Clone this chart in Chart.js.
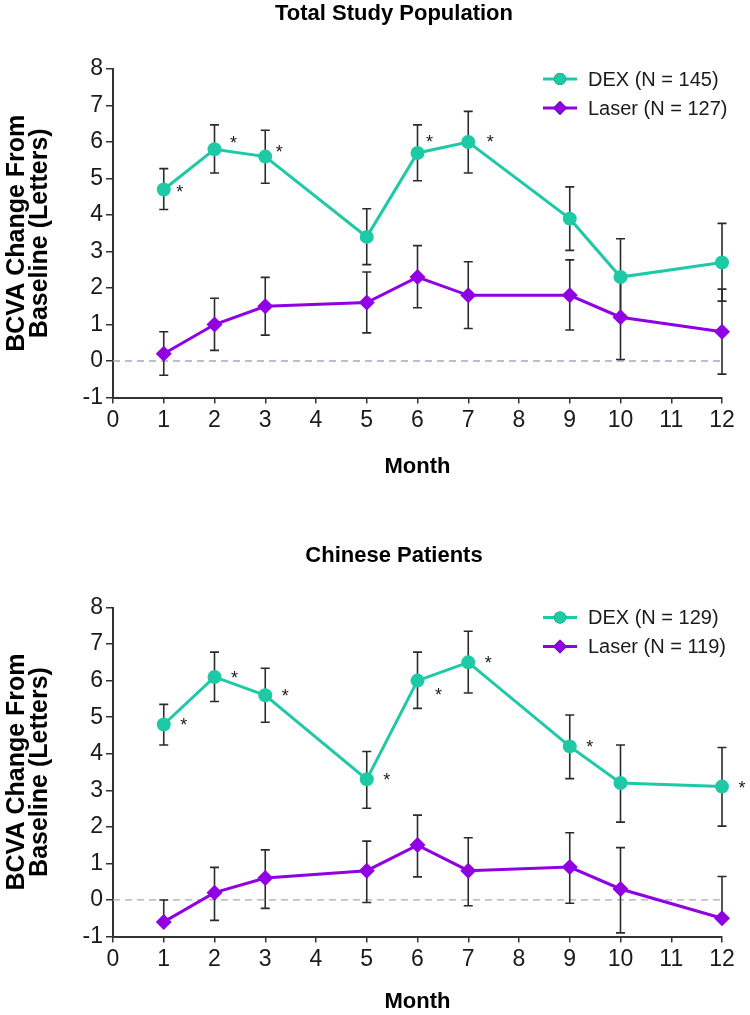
<!DOCTYPE html>
<html>
<head>
<meta charset="utf-8">
<script src="https://cdn.jsdelivr.net/npm/chart.js@4.4.1/dist/chart.umd.min.js"></script>
<style>
  body { margin: 0; background: #fff; }
  canvas { position: absolute; left: 0; }
</style>
</head>
<body>
<canvas id="totalChart" width="750" height="500" style="top:0"></canvas>
<canvas id="chineseChart" width="750" height="515" style="top:500px"></canvas>
<script>
// --- Données ---
const months = [1, 2, 3, 5, 6, 7, 9, 10, 12];
const monthTicks = [0, 1, 2, 3, 4, 5, 6, 7, 8, 9, 10, 11, 12];
const changeTicks = [-1, 0, 1, 2, 3, 4, 5, 6, 7, 8];

// Total Study Population
const totalDex      = [4.7, 5.8, 5.6, 3.4, 5.7, 6.0, 3.9, 2.3, 2.7];
const totalDexLow   = [4.15, 5.15, 4.87, 2.64, 4.94, 5.15, 3.03, 1.25, 1.64];
const totalDexHigh  = [5.27, 6.47, 6.32, 4.17, 6.47, 6.84, 4.77, 3.35, 3.77];
const totalLaser     = [0.2, 1.0, 1.5, 1.6, 2.3, 1.8, 1.8, 1.2, 0.8];
const totalLaserLow  = [-0.39, 0.29, 0.71, 0.77, 1.46, 0.89, 0.85, 0.04, -0.36];
const totalLaserHigh = [0.80, 1.72, 2.29, 2.44, 3.16, 2.72, 2.77, 2.36, 1.97];
const totalSig = [1, 2, 3, 6, 7];

// Chinese Patients
const chineseDex      = [4.8, 6.1, 5.6, 3.3, 6.0, 6.5, 4.2, 3.2, 3.1];
const chineseDexLow   = [4.24, 5.43, 4.86, 2.51, 5.24, 5.66, 3.32, 2.13, 2.02];
const chineseDexHigh  = [5.35, 6.78, 6.34, 4.06, 6.78, 7.35, 5.06, 4.24, 4.17];
const chineseLaser     = [-0.6, 0.2, 0.6, 0.8, 1.5, 0.8, 0.9, 0.3, -0.5];
const chineseLaserLow  = [null, -0.56, -0.23, -0.07, 0.63, -0.16, -0.09, -0.9, null];
const chineseLaserHigh = [0.0, 0.89, 1.37, 1.61, 2.32, 1.70, 1.84, 1.43, 0.64];
const chineseSig = [1, 2, 3, 5, 6, 7, 9, 12];

// --- Style ---
const FONT = "'Liberation Sans', Arial, sans-serif";
const INK = '#1a1a1a';
const DEX_COLOR = '#1ec9a6';
const LASER_COLOR = '#9000e3';

// ligne zéro + barres d'erreur (sous les séries)
const errorBars = {
    id: 'errorBars',
    beforeDatasetsDraw(chart) {
        const { ctx, chartArea, scales: { x, y } } = chart;
        ctx.save();
        const y0 = y.getPixelForValue(0);
        ctx.strokeStyle = '#a4a9c8';
        ctx.lineWidth = 1.3;
        ctx.setLineDash([7, 5]);
        ctx.beginPath();
        ctx.moveTo(chartArea.left, y0);
        ctx.lineTo(chartArea.right, y0);
        ctx.stroke();
        ctx.setLineDash([]);

        ctx.strokeStyle = '#2b2b2b';
        ctx.lineWidth = 1.6;
        chart.data.datasets.forEach(ds => {
            ds.data.forEach((p, i) => {
                const px = x.getPixelForValue(p.x);
                const py = y.getPixelForValue(p.y);
                [ds.low[i], ds.high[i]].forEach(v => {
                    if (v == null) return;
                    const ey = y.getPixelForValue(v);
                    ctx.beginPath();
                    ctx.moveTo(px, py);
                    ctx.lineTo(px, ey);
                    ctx.moveTo(px - 4.5, ey);
                    ctx.lineTo(px + 4.5, ey);
                    ctx.stroke();
                });
            });
        });
        ctx.restore();
    }
};

// astérisques de significativité
const asterisks = {
    id: 'asterisks',
    afterDatasetsDraw(chart, args, opts) {
        const { ctx, scales: { x, y } } = chart;
        const ds = chart.data.datasets[0];
        ctx.save();
        ctx.fillStyle = INK;
        ctx.font = `18px ${FONT}`;
        ctx.textAlign = 'center';
        ctx.textBaseline = 'middle';
        opts.months.forEach(m => {
            const p = ds.data.find(d => d.x === m);
            const off = opts.offsets[m] || [20, -2];
            ctx.fillText('*', x.getPixelForValue(p.x) + off[0], y.getPixelForValue(p.y) + off[1] + 4);
        });
        ctx.restore();
    }
};

// légende dans la zone du graphique + titre
const panelDecor = {
    id: 'panelDecor',
    afterDraw(chart, args, opts) {
        const { ctx, chartArea } = chart;
        ctx.save();
        ctx.fillStyle = '#000';
        ctx.font = `bold 22px ${FONT}`;
        ctx.textAlign = 'center';
        ctx.textBaseline = 'middle';
        ctx.fillText(opts.title, 394, opts.titleY);

        chart.data.datasets.forEach((ds, i) => {
            const ly = chartArea.top + 10 + i * 29;
            const r = chartArea.right;
            ctx.strokeStyle = ds.borderColor;
            ctx.lineWidth = 3;
            ctx.beginPath();
            ctx.moveTo(r - 179, ly);
            ctx.lineTo(r - 145, ly);
            ctx.stroke();
            Chart.helpers.drawPoint(ctx, { pointStyle: ds.pointStyle, radius: ds.pointRadius - 1, borderWidth: 0 }, r - 162, ly);
            ctx.fillStyle = ds.borderColor;
            ctx.fill();
            ctx.fillStyle = INK;
            ctx.font = `20px ${FONT}`;
            ctx.textAlign = 'left';
            ctx.fillText(ds.label, r - 134, ly + 1);
        });
        ctx.restore();
    }
};

function axisTicks(values) {
    return scale => { scale.ticks = values.map(v => ({ value: v })); };
}

function makeChart(canvasId, cfg) {
    const ctx = document.getElementById(canvasId).getContext('2d');
    const series = (vals, low, high, label, color, style, radius) => ({
        label: label,
        data: months.map((m, i) => ({ x: m, y: vals[i] })),
        low: low,
        high: high,
        borderColor: color,
        backgroundColor: color,
        borderWidth: 3,
        pointStyle: style,
        pointRadius: radius,
        pointBorderWidth: 0,
        pointHoverRadius: radius,
        tension: 0,
        clip: false
    });
    const h = ctx.canvas.height;
    return new Chart(ctx, {
        type: 'line',
        data: {
            datasets: [
                series(cfg.dex, cfg.dexLow, cfg.dexHigh, cfg.dexLabel, DEX_COLOR, 'circle', 7),
                series(cfg.laser, cfg.laserLow, cfg.laserHigh, cfg.laserLabel, LASER_COLOR, 'rectRot', 8)
            ]
        },
        plugins: [errorBars, asterisks, panelDecor],
        options: {
            responsive: false,
            animation: false,
            layout: { padding: { top: cfg.top, right: 28, left: 0, bottom: 0 } },
            plugins: {
                legend: { display: false },
                tooltip: { enabled: false },
                asterisks: { months: cfg.sig, offsets: cfg.sigOffsets },
                panelDecor: { title: cfg.title, titleY: cfg.titleY }
            },
            scales: {
                x: {
                    type: 'linear', min: 0, max: 12,
                    afterBuildTicks: axisTicks(monthTicks),
                    afterFit: s => { s.height = h - cfg.bottom; },
                    grid: { drawOnChartArea: false, tickLength: 6, color: '#333', lineWidth: 1.5 },
                    border: { color: '#333', width: 2 },
                    ticks: { color: INK, font: { family: FONT, size: 23 }, padding: 3, maxRotation: 0 },
                    title: { display: true, text: 'Month', color: '#000', font: { family: FONT, size: 22, weight: 'bold' }, padding: { bottom: cfg.monthPad } }
                },
                y: {
                    min: -1, max: 8,
                    afterBuildTicks: axisTicks(changeTicks),
                    afterFit: s => { s.width = 113; },
                    grid: { drawOnChartArea: false, tickLength: 7, color: '#333', lineWidth: 1.5 },
                    border: { color: '#333', width: 2 },
                    ticks: { color: INK, font: { family: FONT, size: 23 }, padding: 3 },
                    title: {
                        display: true, text: ['BCVA Change From', 'Baseline (Letters)'], color: '#000',
                        font: { family: FONT, size: 25, weight: 'bold', lineHeight: 0.92 },
                        padding: { top: 6 }
                    }
                }
            }
        }
    });
}

makeChart('totalChart', {
    title: 'Total Study Population', titleY: 14,
    top: 69, bottom: 397.5, monthPad: 20,
    dex: totalDex, dexLow: totalDexLow, dexHigh: totalDexHigh, dexLabel: 'DEX (N = 145)',
    laser: totalLaser, laserLow: totalLaserLow, laserHigh: totalLaserHigh, laserLabel: 'Laser (N = 127)',
    sig: totalSig,
    sigOffsets: { 1: [16, 0], 2: [19, -9], 3: [14, -8], 6: [12, -14], 7: [22, -3] }
});

makeChart('chineseChart', {
    title: 'Chinese Patients', titleY: 56,
    top: 107.5, bottom: 436.5, monthPad: 0,
    dex: chineseDex, dexLow: chineseDexLow, dexHigh: chineseDexHigh, dexLabel: 'DEX (N = 129)',
    laser: chineseLaser, laserLow: chineseLaserLow, laserHigh: chineseLaserHigh, laserLabel: 'Laser (N = 119)',
    sig: chineseSig,
    sigOffsets: { 6: [21, 11] }
});
</script>
</body>
</html>
